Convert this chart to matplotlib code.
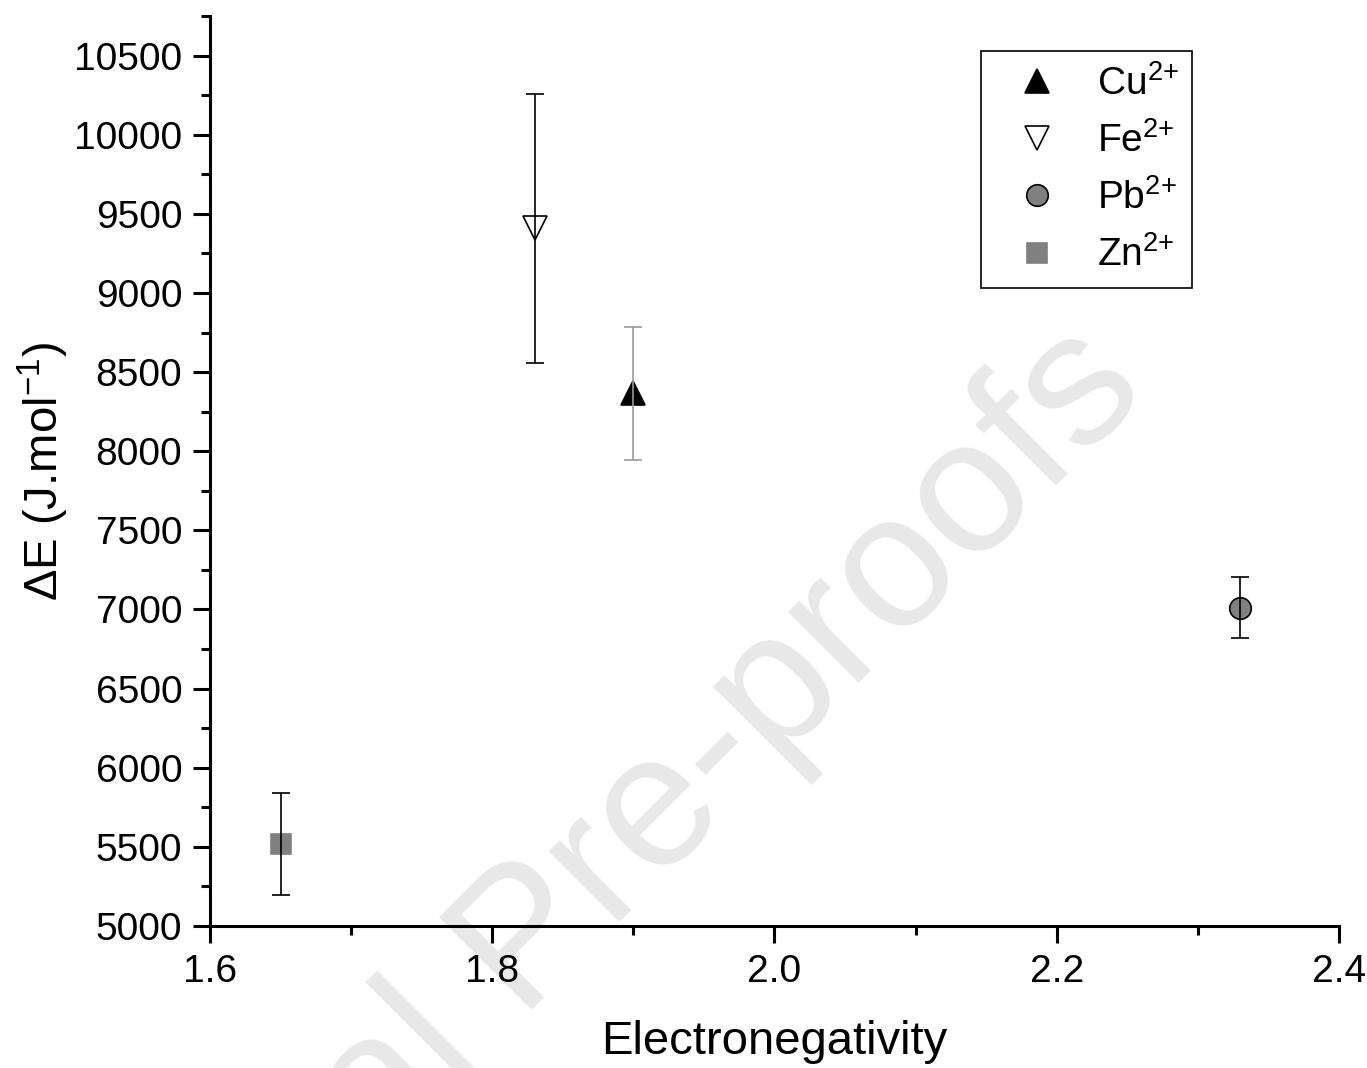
import matplotlib
matplotlib.use('Agg')
import matplotlib.pyplot as plt
from matplotlib.ticker import MultipleLocator, FormatStrFormatter

plt.rcParams['font.family'] = ['Liberation Sans', 'DejaVu Sans']
plt.rcParams['mathtext.fontset'] = 'custom'
plt.rcParams['mathtext.rm'] = 'Liberation Sans'
plt.rcParams['mathtext.it'] = 'Liberation Sans:italic'
plt.rcParams['mathtext.bf'] = 'Liberation Sans:bold'

# Data
ions = ['Cu', 'Fe', 'Pb', 'Zn']
electronegativity = [1.90, 1.83, 2.33, 1.65]
delta_e = [8365, 9410, 7010, 5518]
delta_e_err = [420, 850, 193, 322]

# marker styles per ion
markers = ['^', 'v', 'o', 's']
face_colors = ['black', 'white', '#808080', '#808080']
edge_colors = ['black', 'black', 'black', '#808080']
marker_sizes = [17, 17, 15.5, 14]
err_colors = ['#999999', 'black', 'black', 'black']

fig = plt.figure(figsize=(13.67, 10.68), dpi=100)
ax = fig.add_axes([0.1536, 0.13296, 0.8259, 0.852])
ax.patch.set_alpha(0)

# watermark behind everything
fig.text(0.436, 0.114, 'Journal Pre-proofs', rotation=45, rotation_mode='anchor',
         ha='center', va='baseline', fontsize=137, color='#e8e8e8', zorder=-1)

for i in range(len(ions)):
    ax.plot(electronegativity[i], delta_e[i], linestyle='none', marker=markers[i],
            ms=marker_sizes[i], mfc=face_colors[i], mec=edge_colors[i], mew=1.2,
            label=ions[i] + r'$^{\mathrm{2{+}}}$', zorder=2)
    ax.errorbar(electronegativity[i], delta_e[i], yerr=delta_e_err[i], fmt='none',
                ecolor=err_colors[i], elinewidth=1.2, capsize=6.5, capthick=1.2, zorder=3)

ax.set_xlim(1.6, 2.4)
ax.set_ylim(5000, 10750)
ax.xaxis.set_major_locator(MultipleLocator(0.2))
ax.xaxis.set_minor_locator(MultipleLocator(0.1))
ax.yaxis.set_major_locator(MultipleLocator(500))
ax.yaxis.set_minor_locator(MultipleLocator(250))
ax.xaxis.set_major_formatter(FormatStrFormatter('%.1f'))

for side in ['top', 'right']:
    ax.spines[side].set_visible(False)
for side in ['left', 'bottom']:
    ax.spines[side].set_linewidth(2.2)

ax.tick_params(which='major', direction='out', length=12, width=2.2, labelsize=28, pad=8)
ax.tick_params(which='minor', direction='out', length=6.5, width=2.2)

ax.set_xlabel('Electronegativity', fontsize=34, labelpad=22)
ax.set_ylabel('ΔE (J.mol$^{\\mathrm{-1}}$)', fontsize=34, labelpad=2.5)

leg = ax.legend(loc='upper right', bbox_to_anchor=(0.8698, 0.9615), borderaxespad=0,
                fontsize=28, frameon=True, fancybox=False, framealpha=1,
                edgecolor='black', handlelength=2.16, handletextpad=0.46,
                labelspacing=0.5, borderpad=0.35)
leg.get_frame().set_linewidth(1.2)

fig.savefig('out.png', dpi=100)
